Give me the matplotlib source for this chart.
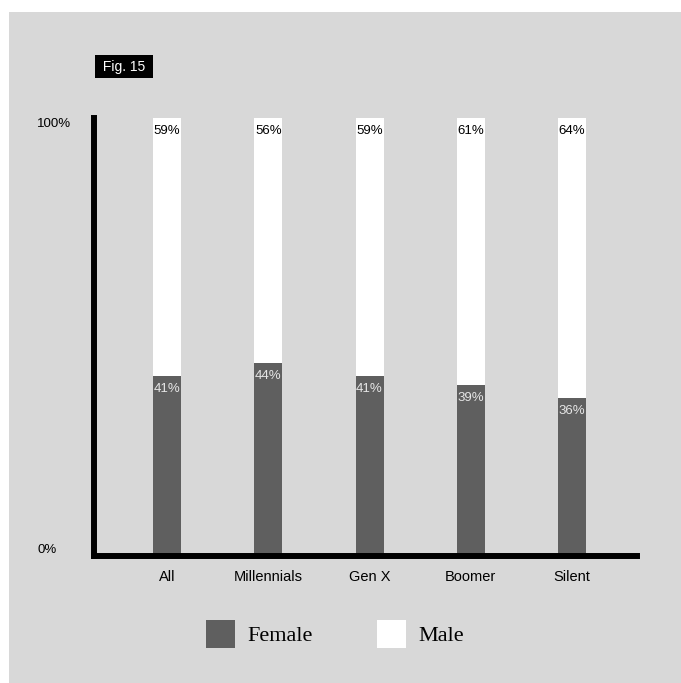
import matplotlib
matplotlib.use("Agg")
import matplotlib.pyplot as plt
from matplotlib.patches import Rectangle, Patch

groups = ["All", "Millennials", "Gen X", "Boomer", "Silent"]
female = [41, 44, 41, 39, 36]
male = [59, 56, 59, 61, 64]
ytick_vals = [0, 100]
ytick_labels = ["0%", "100%"]

female_col = "#5f5f5f"
bg_col = "#d8d8d8"

plt.rcParams['font.family'] = ['Liberation Sans', 'DejaVu Sans']

fig = plt.figure(figsize=(6.81, 6.83), dpi=100)
fig.patch.set_facecolor("white")
fig.patches.append(Rectangle((9/681, 0), 1 - 9/681, 1 - 12/683,
                             transform=fig.transFigure, facecolor=bg_col,
                             edgecolor="none", zorder=-5))

ax = fig.add_axes([94/681, 1 - 556/683, (637 - 94)/681, (556 - 118)/683])
ax.set_facecolor("none")

x = list(range(len(groups)))
w = 0.277
ax.bar(x, female, width=w, color=female_col, zorder=2)
ax.bar(x, male, width=w, bottom=female, color="white", zorder=2)

for i in x:
    ax.annotate(f"{male[i]}%", (i, 100), xytext=(0, -5), textcoords="offset points",
                ha="center", va="top", fontsize=9.5, color="black", zorder=3)
    ax.annotate(f"{female[i]}%", (i, female[i]), xytext=(0, -5), textcoords="offset points",
                ha="center", va="top", fontsize=9.5, color="#e6e6e6", zorder=3)

ax.set_xlim(-0.72, 4.64)
ax.set_ylim(0, 100)
for s in ["top", "right"]:
    ax.spines[s].set_visible(False)
for s in ["left", "bottom"]:
    ax.spines[s].set_linewidth(4.3)
    ax.spines[s].set_color("black")
    ax.spines[s].set_zorder(4)
ax.spines["bottom"].set_capstyle("projecting")

ax.set_xticks(x)
ax.set_xticklabels(groups, fontsize=10.5)
ax.tick_params(axis="x", length=0, pad=10)
ax.set_yticks(ytick_vals)
ax.set_yticklabels(ytick_labels, fontsize=9.5)
ax.tick_params(axis="y", length=0, pad=41)
lbls = ax.get_yticklabels()
for l in lbls:
    l.set_horizontalalignment("left")
lbls[0].set_verticalalignment("bottom")
lbls[1].set_verticalalignment("top")

fig.text(124/681, 1 - 66.5/683, " Fig. 15 ", color="white", fontsize=10,
         ha="center", va="center",
         bbox=dict(boxstyle="square,pad=0.3", facecolor="black", edgecolor="none"))

handles = [Patch(facecolor=female_col, edgecolor="none", label="Female"),
           Patch(facecolor="white", edgecolor="none", label="Male")]
fig.legend(handles=handles, loc="center", bbox_to_anchor=(335/681, 1 - 634/683),
           ncol=2, frameon=False, prop={"family": "Liberation Serif", "size": 16},
           handlelength=1.3, handleheight=1.5, handletextpad=0.55, columnspacing=2.9)

fig.savefig("out.png", dpi=100)
